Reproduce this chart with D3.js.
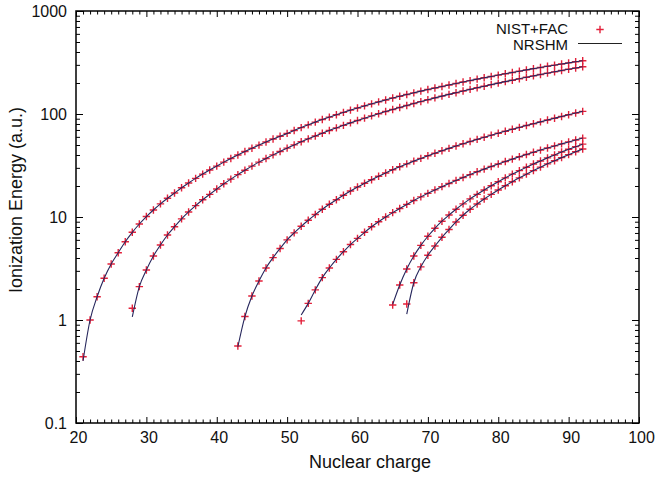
<!DOCTYPE html>
<html><head><meta charset="utf-8">
<script src="https://cdn.jsdelivr.net/npm/d3@7"></script>
<style>body{margin:0;background:#fff}svg{display:block}text{font-family:"Liberation Sans",Arial,Helvetica,sans-serif}</style>
</head><body>
<svg id="c" width="656" height="479"></svg>
<script>
// ---- data ----
const xTickLabels = [20, 30, 40, 50, 60, 70, 80, 90, 100];
const yTickLabels = [0.1, 1, 10, 100, 1000];
const seriesStartZ = [21, 28, 43, 52, 65, 67];
const fac1 = [0.44,1.0,1.68,2.54,3.5,4.5,5.75,7.1,8.55,10.1,
  11.7,13.4,15.2,17.1,19.2,21.4,23.7,26.1,28.6,31.2,
  34.1,37.0,40.0,43.2,46.5,49.9,53.5,57.1,60.9,64.8,
  69.2,73.8,78.5,83.4,88.4,93.3,98.4,103.6,109.0,114.5,
  119.9,125.4,131.1,136.9,142.8,148.6,154.5,160.5,166.7,172.9,
  179.0,185.2,191.5,198.0,204.5,211.1,217.9,224.7,231.6,238.7,
  245.9,253.1,260.5,268.0,275.6,282.9,290.4,297.9,305.6,313.3,
  321.1,329.1];
const fac2 = [1.3,2.11,3.06,
  4.18,5.35,6.69,8.05,9.6,11.2,12.9,14.7,16.6,18.7,
  21.0,23.3,25.8,28.4,31.2,34.1,37.0,40.1,43.3,46.6,
  50.1,53.7,57.4,61.2,65.1,69.2,73.3,77.6,82.0,86.5,
  91.1,95.8,100.6,105.6,110.7,115.8,121.1,126.5,132.0,137.6,
  143.3,149.1,155.0,161.0,167.2,173.4,179.7,186.2,192.7,199.4,
  206.2,213.0,220.0,227.2,234.4,241.7,249.1,256.7,264.3,272.1,
  280.0,288.0];
const fac3 = [0.56,1.08,1.71,2.39,3.2,4.03,4.95,6.0,
  7.02,8.12,9.3,10.56,11.9,13.28,14.73,16.26,17.86,19.54,
  21.23,23.0,24.84,26.75,28.73,30.71,32.76,34.88,37.06,39.31,
  41.6,43.96,46.38,48.86,51.41,54.0,56.7,59.4,62.3,65.1,
  68.1,71.1,74.1,77.3,80.5,83.9,87.4,91.0,94.7,98.4,
  102.2,106.1];
const fac4 = [0.98,1.45,1.96,2.58,3.2,3.88,4.6,5.4,6.2,
  7.1,8.05,9.0,9.99,11.02,12.11,13.25,14.44,15.68,16.97,
  18.32,19.71,21.16,22.66,24.21,25.81,27.46,29.16,30.91,32.72,
  34.57,36.48,38.44,40.45,42.51,44.62,46.79,49.0,51.27,53.58,
  55.95,58.37];
const fac5 = [1.4,2.19,3.13,4.18,5.3,6.5,
  7.77,9.1,10.45,11.9,13.4,15.0,16.6,18.3,20.1,22.0,
  24.0,26.1,28.2,30.4,32.7,35.0,37.5,40.0,42.7,45.4,
  48.2,51.0];
const fac6 = [1.43,2.3,3.28,4.25,
  5.23,6.35,7.55,8.95,10.4,11.9,13.37,14.93,16.57,18.3,
  20.1,22.0,24.0,26.07,28.23,30.47,32.8,35.21,37.71,40.3,
  42.97,45.7];
// NRSHM curves follow the same values except at the first point of each sequence
const nrshmFirst = [0.40, 1.07, 0.55, 1.12, 1.42, 1.14];
const legendLabels = ["NIST+FAC", "NRSHM"];

// ---- layout ----
const L = 76, R = 639, T = 11, B = 423;
const svg = d3.select("#c");
const x = d3.scaleLinear().domain([20, 100]).range([L, R]);
const y = d3.scaleLog().domain([0.1, 1000]).range([B, T]);

const facSets = [fac1, fac2, fac3, fac4, fac5, fac6];
const facData = facSets.map((arr, i) => arr.map((v, j) => ({z: seriesStartZ[i] + j, v})));
const nrData = facData.map((pts, i) => pts.map((p, j) => ({z: p.z, v: j === 0 ? nrshmFirst[i] : p.v})));

const markColor = "#e3203a";
const lineColor = "#26265c";

const xMinor = d3.range(20, 101, 1).filter(v => v % 10 !== 0);
const yMinor = [];
[0.1, 1, 10, 100].forEach(d => { for (let k = 2; k <= 9; k++) yMinor.push(d * k); });

function styleAxis(g) {
  g.select(".domain").remove();
  g.selectAll(".tick line").attr("stroke", "#000").attr("stroke-width", 1);
  g.selectAll("text").attr("font-size", 16).attr("fill", "#111")
    .style("font-family", '"Liberation Sans", Arial, sans-serif');
}

// bottom
svg.append("g").attr("transform", `translate(0,${B})`)
  .call(d3.axisBottom(x).tickValues(xTickLabels).tickSize(-6).tickPadding(9).tickFormat(d => String(d)))
  .call(styleAxis)
  .call(g => g.selectAll("text").attr("dx", 2));
svg.append("g").attr("transform", `translate(0,${B})`)
  .call(d3.axisBottom(x).tickValues(xMinor).tickSize(-3.5).tickFormat(""))
  .call(styleAxis);
// top
svg.append("g").attr("transform", `translate(0,${T})`)
  .call(d3.axisTop(x).tickValues(xTickLabels).tickSize(-6).tickFormat(""))
  .call(styleAxis);
svg.append("g").attr("transform", `translate(0,${T})`)
  .call(d3.axisTop(x).tickValues(xMinor).tickSize(-3.5).tickFormat(""))
  .call(styleAxis);
// left
svg.append("g").attr("transform", `translate(${L},0)`)
  .call(d3.axisLeft(y).tickValues(yTickLabels).tickSize(-7).tickPadding(9).tickFormat(d => String(d)))
  .call(styleAxis);
svg.append("g").attr("transform", `translate(${L},0)`)
  .call(d3.axisLeft(y).tickValues(yMinor).tickSize(-4).tickFormat(""))
  .call(styleAxis);
// right
svg.append("g").attr("transform", `translate(${R},0)`)
  .call(d3.axisRight(y).tickValues(yTickLabels).tickSize(-7).tickFormat(""))
  .call(styleAxis);
svg.append("g").attr("transform", `translate(${R},0)`)
  .call(d3.axisRight(y).tickValues(yMinor).tickSize(-4).tickFormat(""))
  .call(styleAxis);

// frame
svg.append("rect").attr("x", L).attr("y", T).attr("width", R - L).attr("height", B - T)
  .attr("fill", "none").attr("stroke", "#000").attr("stroke-width", 1.5);

// markers
const ms = 3.7;
const plus = (cx, cy) => `M${cx - ms},${cy}h${2 * ms}M${cx},${cy - ms}v${2 * ms}`;
facData.forEach(pts => {
  svg.append("path")
    .attr("d", pts.map(p => plus(x(p.z), y(p.v))).join(""))
    .attr("stroke", markColor).attr("stroke-width", 1.4).attr("fill", "none");
});

// lines
const line = d3.line().x(d => x(d.z)).y(d => y(d.v)).curve(d3.curveMonotoneX);
nrData.forEach(pts => {
  svg.append("path").datum(pts).attr("d", line)
    .attr("fill", "none").attr("stroke", lineColor).attr("stroke-width", 1.1);
});

// legend
const lg = svg.append("g");
lg.append("text").attr("x", 568).attr("y", 34).attr("text-anchor", "end")
  .attr("font-size", 15).attr("fill", "#111").text(legendLabels[0]);
lg.append("path").attr("d", plus(600, 29.5)).attr("stroke", markColor).attr("stroke-width", 1.4);
lg.append("text").attr("x", 568).attr("y", 50).attr("text-anchor", "end")
  .attr("font-size", 15).attr("fill", "#111").text(legendLabels[1]);
lg.append("line").attr("x1", 578).attr("x2", 622).attr("y1", 43.5).attr("y2", 43.5)
  .attr("stroke", "#222").attr("stroke-width", 1.1);

// axis titles
svg.append("text").attr("x", 370).attr("y", 468).attr("text-anchor", "middle")
  .attr("font-size", 18).attr("fill", "#111").text("Nuclear charge");
svg.append("text").attr("transform", "translate(22,200) rotate(-90)").attr("text-anchor", "middle")
  .attr("font-size", 18).attr("fill", "#111").text("Ionization Energy (a.u.)");
</script>
</body></html>
